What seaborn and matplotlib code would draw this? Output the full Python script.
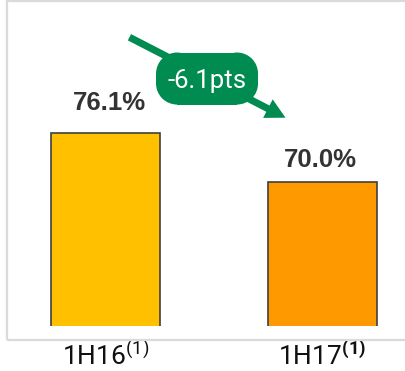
import matplotlib
matplotlib.use("Agg")
import matplotlib.pyplot as plt
import matplotlib.transforms as mtransforms
import seaborn as sns
from matplotlib.patches import Rectangle, FancyArrowPatch, Circle

# ---- data ----
categories = ["1H16", "1H17"]
values = [76.1, 70.0]
value_labels = ["76.1%", "70.0%"]
tick_labels = [r"1H16$^{\mathrm{(1)}}$", r"1H17$^{\mathbf{(1)}}$"]
change_label = "-6.1pts"
bar_colors = ["#FFC000", "#FF9900"]

sns.set_theme(style="white")
plt.rcParams["font.family"] = ["Roboto", "DejaVu Sans"]
plt.rcParams["mathtext.fontset"] = "custom"
plt.rcParams["mathtext.rm"] = "Roboto"
plt.rcParams["mathtext.bf"] = "Roboto:bold"
plt.rcParams["mathtext.it"] = "Roboto:italic"

W, H = 406, 371
fig = plt.figure(figsize=(W / 100, H / 100), dpi=100)
fig.patch.set_facecolor("white")

# outer light frame
fig.add_artist(Rectangle((7 / W, 1 - 340 / H), 1.2, (340 - 1) / H,
                         transform=fig.transFigure, fill=False,
                         edgecolor="#DADADA", linewidth=1.6))

ax = fig.add_axes([7 / W, 1 - 326 / H, 1 - 7 / W, (326 - 2) / H])
sns.barplot(x=categories, y=values, hue=categories, palette=bar_colors,
            legend=False, width=0.5, saturation=1, edgecolor="#404040",
            linewidth=1.2, ax=ax)
ax.set_facecolor("none")
ax.set_xlim(-0.454, 1.385)
ax.set_ylim(52.2, 92.25)
for s in ax.spines.values():
    s.set_visible(False)
ax.set_yticks([])
ax.set_xlabel("")
ax.set_ylabel("")
ax.set_xticks(range(len(categories)))
ax.set_xticklabels(tick_labels, fontsize=19, color="#111111")
ax.tick_params(axis="x", length=0, pad=11)

# value labels
offsets = [16, 11]
for i, (v, lab) in enumerate(zip(values, value_labels)):
    ax.annotate(lab, (i + (0.02 if i == 0 else -0.01), v), xytext=(0, offsets[i]),
                textcoords="offset points", ha="center", va="baseline",
                fontsize=18.5, fontweight="bold", color="#333333",
                family="Liberation Sans")

# change arrow
green = "#008C50"
arrow = FancyArrowPatch((0.099, 88.05), (0.841, 77.79),
                        arrowstyle="simple,tail_width=0.34,head_width=1.0,head_length=0.95",
                        mutation_scale=15, color=green, linewidth=0, zorder=4)
ax.add_patch(arrow)

# pill label (rounded rectangle built from plain shapes, inch units around centre)
cx, cy = 0.468, 82.79
pill_tr = fig.dpi_scale_trans + mtransforms.ScaledTranslation(cx, cy, ax.transData)
pw, ph, r = 1.02, 0.52, 0.21
shapes = [
    Rectangle((-pw / 2 + r, -ph / 2), pw - 2 * r, ph),
    Rectangle((-pw / 2, -ph / 2 + r), pw, ph - 2 * r),
]
for sx in (-1, 1):
    for sy in (-1, 1):
        shapes.append(Circle((sx * (pw / 2 - r), sy * (ph / 2 - r)), r))
for shp in shapes:
    shp.set_transform(pill_tr)
    shp.set_facecolor(green)
    shp.set_edgecolor("none")
    shp.set_zorder(5)
    ax.add_patch(shp)
ax.text(cx, cy, change_label, ha="center", va="center_baseline", fontsize=18.5,
        color="white", zorder=6)

fig.savefig("out.png", dpi=100)
